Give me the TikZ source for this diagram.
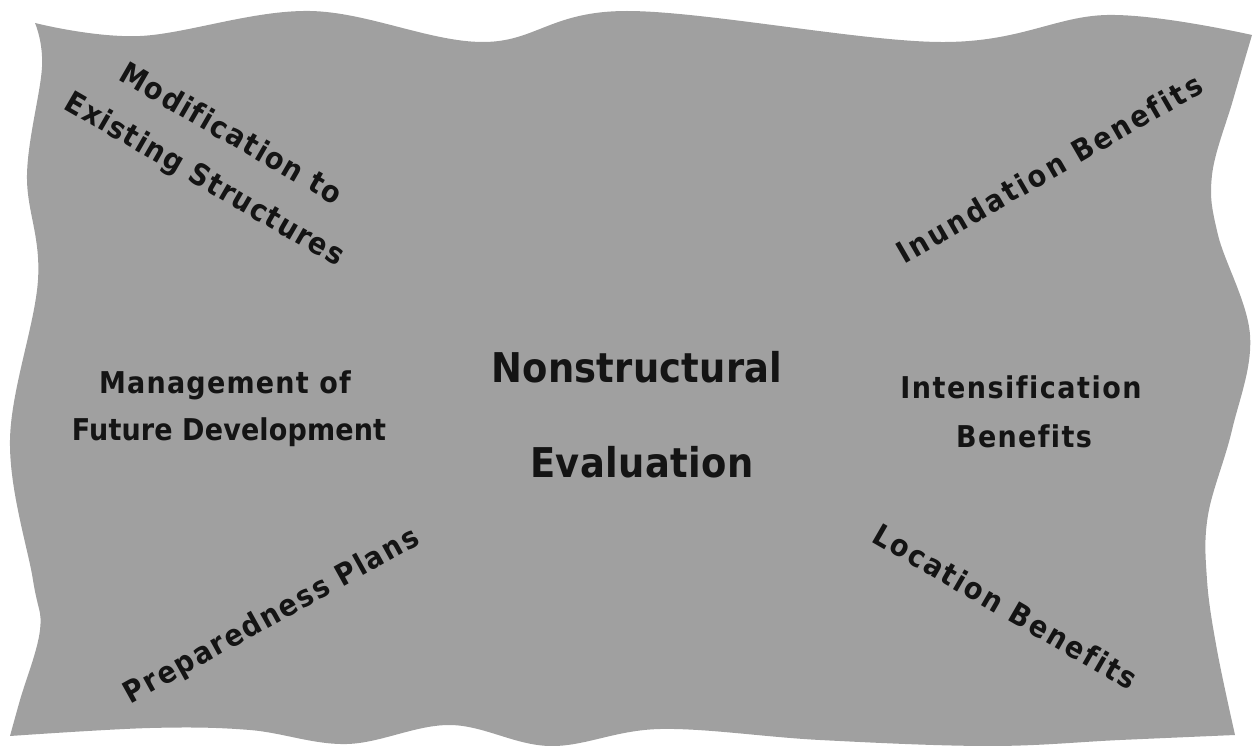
\documentclass[tikz,border=0pt]{standalone}
\usepackage{fontspec}
\newfontfamily\lab{DejaVu Sans}[FakeStretch=0.9, Ligatures=NoCommon]
\definecolor{paper}{RGB}{160,160,160}
\definecolor{ink}{RGB}{20,20,20}
\newcommand\ls[1]{\addfontfeature{LetterSpace=#1}}
\begin{document}
\begin{tikzpicture}[x=1pt,y=-1pt,
  lbl/.style={font=\lab\bfseries\fontsize{30}{52}\selectfont, text=ink, inner sep=0pt, anchor=base},
  big/.style={font=\lab\bfseries\fontsize{41}{48}\selectfont, text=ink, inner sep=0pt, anchor=base}]
\useasboundingbox (0,0) rectangle (1253,746);
\fill[paper]
  plot[smooth,tension=0.6] coordinates {(35,23) (140,36) (310,11) (483,42) (627,11) (940,42) (1107,15) (1252,35)}
  -- plot[smooth,tension=0.6] coordinates {(1252,35) (1233,100) (1212,175) (1218,235) (1250,335) (1232,430) (1208,515) (1207,580) (1217,650) (1235,735)}
  -- plot[smooth,tension=0.6] coordinates {(1235,735) (1120,740) (990,746) (820,740) (660,729) (550,746) (450,725) (347,744) (250,730) (150,728) (10,736)}
  -- plot[smooth,tension=0.6] coordinates {(10,736) (20,700) (40,630) (33,580) (10,440) (38,280) (27,175) (42,67) (35,23)}
  -- cycle;
\node[big] (ns) at (637,382) {\ls{0.5}Nonstructural};
\node[big] (ev) at (642,477) {\ls{1}Evaluation};
\node[lbl] (mg) at (225,393) {\ls{4}Management of};
\node[lbl] (fd) at (229,440) {\ls{0.5}Future Development};
\node[lbl] (in) at (1021,398) {\ls{5}Intensification};
\node[lbl] (be) at (1024,447) {\ls{4.5}Benefits};
\node[lbl,anchor=center,align=center,rotate=-30] (mo) at (217,158) {\ls{5.5}Modification to\\\ls{4.8}Existing Structures};
\node[lbl,rotate=30] (ib) at (1055,178) {\ls{9}Inundation Benefits};
\node[lbl,rotate=29] (pp) at (276,624) {\ls{6.3}Preparedness Plans};
\node[lbl,rotate=-30] (lb) at (1000,616) {\ls{7.5}Location Benefits};
\end{tikzpicture}
\end{document}
